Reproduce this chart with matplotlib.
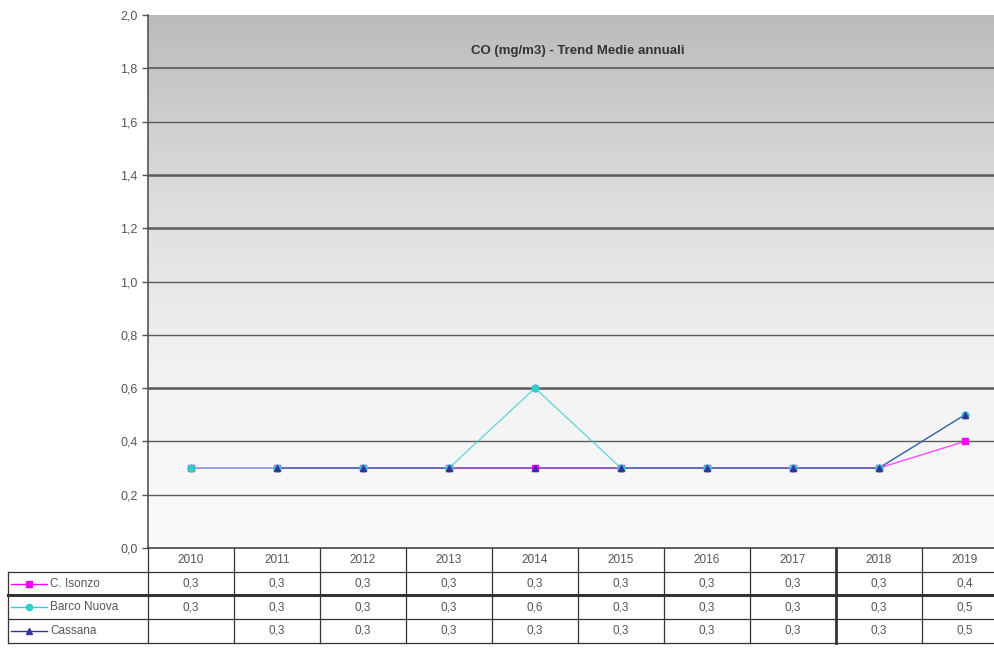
import numpy as np
import matplotlib.pyplot as plt
from matplotlib.colors import LinearSegmentedColormap
from matplotlib.transforms import blended_transform_factory

plt.rcParams['font.family'] = ['Liberation Sans', 'DejaVu Sans']

years = ["2010", "2011", "2012", "2013", "2014", "2015", "2016", "2017", "2018", "2019"]
isonzo = [0.3, 0.3, 0.3, 0.3, 0.3, 0.3, 0.3, 0.3, 0.3, 0.4]
barco = [0.3, 0.3, 0.3, 0.3, 0.6, 0.3, 0.3, 0.3, 0.3, 0.5]
cassana = [np.nan, 0.3, 0.3, 0.3, 0.3, 0.3, 0.3, 0.3, 0.3, 0.5]
series_names = ["C. Isonzo", "Barco Nuova", "Cassana"]
title = "CO (mg/m3) - Trend Medie annuali"

colors = ["#ff00ff", "#33cccc", "#333399"]
markers = ["s", "o", "^"]
text_col = "#555555"

fig = plt.figure(figsize=(9.95, 6.51), dpi=100)
ax = fig.add_axes([148 / 995, 1 - 548 / 651, 860 / 995, 533 / 651])
x = np.arange(len(years))
ax.set_xlim(-0.5, len(years) - 0.5)
ax.set_ylim(0, 2.0)

# sfondo sfumato grigio -> bianco
grad = np.linspace(0, 1, 256).reshape(-1, 1)
cmap = LinearSegmentedColormap.from_list("bg", ["#fbfbfb", "#f2f2f2", "#dcdcdc", "#bbbbbb"])
ax.imshow(grad, extent=[-0.5, len(years) - 0.5, 0, 2.0], origin="lower",
          aspect="auto", cmap=cmap, zorder=0)

# griglia orizzontale
grid_w = {0.2: 1.0, 0.4: 1.0, 0.6: 1.8, 0.8: 1.0, 1.0: 1.0, 1.2: 1.8, 1.4: 1.8, 1.6: 1.0, 1.8: 1.2}
for yv, w in grid_w.items():
    ax.axhline(yv, color="#5a5a5a", lw=w, zorder=1)

for vals, c, m in zip([isonzo, barco, cassana], colors, markers):
    ax.plot(x, vals, color=c, lw=1.0, alpha=0.7, zorder=3)
    ax.plot(x, vals, ls="none", marker=m, ms=5, color=c, mec=c, zorder=4)

ax.text(0.5, 0.933, title, transform=ax.transAxes, ha="center", va="center",
        fontsize=9.5, fontweight="bold", color="#333333")

yt = np.arange(0, 2.01, 0.2)
ax.set_yticks(yt)
ax.set_yticklabels([f"{v:.1f}".replace(".", ",") for v in yt], color=text_col, fontsize=9)
ax.tick_params(axis="y", length=4, color="#555555", width=1)
ax.set_xticks([])
for s in ["top", "right"]:
    ax.spines[s].set_visible(False)
ax.spines["left"].set_color("#555555")
ax.spines["left"].set_linewidth(1.2)
ax.spines["bottom"].set_color("#444444")
ax.spines["bottom"].set_linewidth(1.2)

# tabella dati sotto il grafico
tr = blended_transform_factory(ax.transData, ax.transAxes)
px = 1 / 533  # un pixel in coordinate asse (verticale)
row_h = 23.7 * px
y_rows = [-row_h * (i + 1) for i in range(4)]
left_tab = -0.5 - 140 / 86

line_kw = dict(color="#333333", lw=0.9, clip_on=False, transform=tr)
# linee orizzontali
ax.plot([left_tab, len(years) - 0.5], [y_rows[0]] * 2, **line_kw)
ax.plot([left_tab, len(years) - 0.5], [y_rows[1]] * 2, color="#333333", lw=2.2,
        clip_on=False, transform=tr)
ax.plot([left_tab, len(years) - 0.5], [y_rows[2]] * 2, **line_kw)
ax.plot([left_tab, len(years) - 0.5], [y_rows[3]] * 2, **line_kw)
# linee verticali
for i in range(len(years) + 1):
    xv = i - 0.5
    lw = 2.0 if i == 8 else 0.9
    ax.plot([xv, xv], [0, y_rows[3]], color="#333333", lw=lw, clip_on=False, transform=tr)
ax.plot([left_tab, left_tab], [y_rows[0], y_rows[3]], **line_kw)

for i, yr in enumerate(years):
    ax.text(i, -row_h / 2, yr, transform=tr, ha="center", va="center",
            fontsize=8.5, color=text_col)

for r, (name, vals, c, m) in enumerate(zip(series_names, [isonzo, barco, cassana], colors, markers)):
    yc = y_rows[r] - row_h / 2
    for i, v in enumerate(vals):
        if not np.isnan(v):
            ax.text(i, yc, f"{v:.1f}".replace(".", ","), transform=tr, ha="center",
                    va="center", fontsize=8.5, color=text_col)
    lx0 = left_tab + 0.03
    ax.plot([lx0, lx0 + 0.42], [yc, yc], color=c, lw=1.0, clip_on=False, transform=tr)
    ax.plot([lx0 + 0.21], [yc], marker=m, ms=4.5, color=c, clip_on=False, transform=tr)
    ax.text(lx0 + 0.46, yc, name, transform=tr, ha="left", va="center",
            fontsize=8.5, color=text_col)

fig.savefig("out.png", dpi=100)
